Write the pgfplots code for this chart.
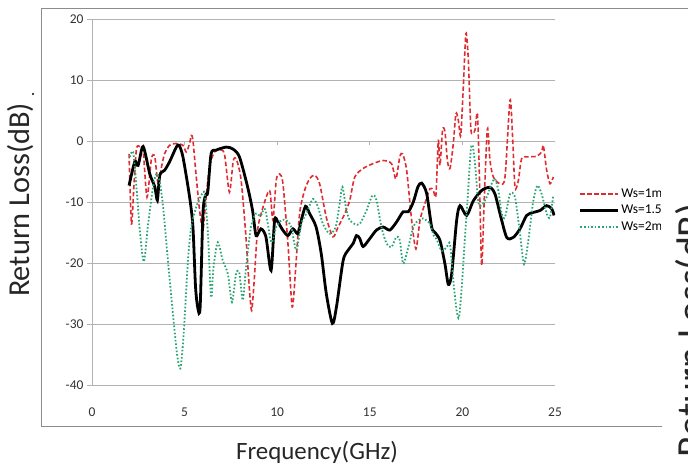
\documentclass[border=0pt]{standalone}
\usepackage{pgfplots}
\pgfplotsset{compat=1.18}
\usepackage{fontspec}
\setmainfont{Carlito}
\definecolor{gridgray}{RGB}{178,178,178}
\definecolor{framegray}{RGB}{140,140,140}
\definecolor{rlred}{RGB}{222,45,50}
\definecolor{rlgreen}{RGB}{40,165,115}
\begin{document}
\begin{tikzpicture}
\draw[framegray, line width=1bp] (662bp,44bp) -- (41bp,44bp) -- (41bp,462bp) -- (688bp,462bp);
\begin{axis}[
  at={(92bp,86bp)}, anchor=south west,
  scale only axis, width=463bp, height=366bp,
  xmin=0, xmax=25, ymin=-40, ymax=20,
  xtick={0,5,...,25}, ytick={-40,-30,...,20},
  axis lines=left,
  axis line style={-, gridgray, line width=1bp},
  ymajorgrids, grid style={gridgray, line width=1bp},
  xtick style={draw=none},
  ytick style={gridgray, line width=1bp},
  tick align=outside, major tick length=5bp,
  ticklabel style={font=\fontsize{13.5}{16}\selectfont, text=black!80},
  /pgf/number format/assume math mode=true,
  xticklabel style={yshift=-14bp},
  legend style={at={(axis description cs:1.045,0.55)}, anchor=north west,
    draw=none, fill=none, font=\fontsize{13.5}{16}\selectfont, row sep=0bp,
    nodes={inner sep=1.5bp, text height=10bp, text depth=3.5bp}},
  legend cell align=left,
  legend image code/.code={\draw[#1] (0bp,0bp) -- (38bp,0bp);},
]
\addplot[rlred, line width=1.6bp, dash pattern=on 4.5bp off 2.5bp, smooth, tension=0.45] coordinates {
(2.0,-2.1)(2.13,-13.6)(2.26,-7.5)(2.4,-1.3)(2.58,-0.9)(2.76,-1.5)(2.97,-9.2)(3.21,-2.9)(3.39,-2.6)(3.57,-7.0)(3.75,-4.3)(3.92,-2.1)(4.19,-0.7)(4.55,-0.4)(4.91,-0.7)(5.09,-1.8)(5.27,-0.4)(5.36,0.9)(5.45,0.1)(5.63,-5.9)(5.81,-11.4)(5.99,-14.6)(6.13,-10.3)(6.34,-4.3)(6.61,-1.8)(6.88,-1.5)(7.15,-2.1)(7.42,-8.4)(7.63,-3.2)(7.81,-3.1)(8.05,-6.4)(8.3,-15.2)(8.49,-23.9)(8.62,-27.8)(8.76,-22.8)(8.94,-14.6)(9.21,-11.1)(9.48,-8.6)(9.62,-8.4)(9.77,-13.0)(9.95,-6.4)(10.13,-5.4)(10.31,-7.0)(10.58,-16.8)(10.81,-27.2)(10.99,-21.2)(11.21,-11.9)(11.48,-8.1)(11.75,-6.2)(12.02,-5.6)(12.29,-7.0)(12.65,-12.5)(13.01,-15.7)(13.29,-14.1)(13.65,-11.9)(13.92,-9.7)(14.19,-5.9)(14.64,-4.5)(15.18,-3.7)(15.72,-3.2)(16.17,-3.7)(16.41,-6.2)(16.62,-2.6)(16.77,-2.1)(16.99,-4.8)(17.26,-13.0)(17.49,-17.7)(17.71,-13.0)(17.95,-10.5)(18.25,-7.8)(18.43,-8.1)(18.57,-8.9)(18.7,0.1)(18.79,-4.0)(18.93,1.8)(19.06,1.5)(19.19,-3.2)(19.33,-4.5)(19.51,-0.4)(19.65,4.5)(19.78,3.4)(19.91,0.9)(20.05,8.9)(20.19,17.6)(20.32,13.3)(20.45,2.3)(20.55,1.2)(20.68,1.8)(20.81,4.5)(20.91,-4.8)(21.04,-20.4)(21.17,-10.3)(21.35,2.0)(21.49,-3.2)(21.67,-5.9)(22.03,-7.0)(22.3,-5.9)(22.57,6.7)(22.71,0.7)(22.84,-7.6)(23.02,-6.5)(23.2,-2.9)(23.56,-2.6)(24.01,-2.5)(24.28,-1.8)(24.37,-0.7)(24.55,-4.8)(24.73,-7.0)(24.91,-5.9)
};
\addlegendentry{Ws=1mm}
\addplot[black, line width=2.8bp, smooth, tension=0.45] coordinates {
(2.0,-7.3)(2.31,-3.4)(2.49,-4.0)(2.76,-0.9)(3.12,-5.4)(3.39,-7.5)(3.53,-9.7)(3.66,-5.6)(3.92,-4.8)(4.19,-3.4)(4.55,-1.0)(4.70,-0.7)(4.91,-2.6)(5.27,-9.2)(5.45,-14.1)(5.59,-23.9)(5.72,-27.5)(5.84,-27.2)(5.99,-11.9)(6.13,-8.9)(6.25,-8.4)(6.43,-2.1)(6.70,-1.5)(7.24,-1.0)(7.6,-1.3)(7.96,-2.6)(8.4,-7.5)(8.67,-11.4)(8.86,-15.5)(9.12,-14.4)(9.39,-15.7)(9.67,-21.2)(9.86,-13)(10.04,-13.3)(10.3,-14.6)(10.58,-15.5)(10.85,-14.4)(11.12,-15.2)(11.3,-13.0)(11.53,-10.7)(11.75,-11.9)(12.1,-14.1)(12.38,-18.5)(12.65,-25.0)(12.98,-29.9)(13.2,-27.2)(13.56,-19.6)(13.83,-17.9)(14.1,-16.8)(14.28,-15.5)(14.46,-16.0)(14.64,-17.3)(15.0,-16.0)(15.36,-14.6)(15.72,-14.1)(16.08,-14.6)(16.44,-13.3)(16.8,-11.6)(17.08,-11.6)(17.35,-10.0)(17.6,-7.5)(17.8,-6.9)(18.07,-8.6)(18.34,-14.1)(18.52,-15.0)(18.79,-16.3)(19.06,-20.2)(19.24,-23.5)(19.42,-21.8)(19.69,-13.0)(19.87,-10.6)(20.23,-12.2)(20.59,-9.8)(21.04,-8.1)(21.49,-7.6)(21.76,-8.7)(22.03,-11.9)(22.39,-15.8)(22.75,-15.8)(23.11,-14.4)(23.47,-12.2)(23.83,-11.7)(24.19,-11.4)(24.55,-10.6)(24.82,-11.1)(24.95,-12.2)
};
\addlegendentry{Ws=1.5mm}
\addplot[rlgreen, line width=1.8bp, dash pattern=on 1.6bp off 2bp, smooth, tension=0.45] coordinates {
(2.04,-2.6)(2.22,-1.8)(2.4,-7.5)(2.58,-14.6)(2.8,-19.8)(3.03,-13.6)(3.3,-7.5)(3.48,-5.4)(3.66,-6.7)(3.84,-10.8)(4.1,-19.6)(4.37,-28.3)(4.59,-34.9)(4.77,-37.3)(4.95,-31.6)(5.18,-19.6)(5.36,-14.1)(5.63,-10.8)(5.9,-8.9)(6.08,-8.6)(6.25,-14.6)(6.43,-25.6)(6.56,-20.7)(6.79,-16.6)(7.06,-19.6)(7.33,-21.7)(7.56,-26.4)(7.78,-21.7)(7.96,-21.7)(8.14,-26.1)(8.32,-20.7)(8.58,-14.1)(8.85,-11.9)(9.1,-12.3)(9.35,-11.2)(9.68,-16.6)(9.95,-14.1)(10.22,-13.0)(10.49,-13.0)(10.76,-14.1)(11.03,-17.9)(11.3,-13.6)(11.57,-11.9)(11.93,-9.5)(12.2,-10.8)(12.47,-13.6)(12.83,-15.2)(13.16,-14.1)(13.37,-10.3)(13.52,-7.5)(13.74,-11.4)(13.92,-13.0)(14.19,-13.6)(14.46,-13.6)(14.82,-11.4)(15.14,-8.9)(15.36,-9.7)(15.63,-14.1)(15.9,-16.8)(16.17,-17.4)(16.44,-15.7)(16.62,-16.3)(16.8,-20.1)(17.08,-17.4)(17.35,-14.1)(17.62,-13.0)(17.89,-12.7)(18.25,-13.6)(18.45,-15.5)(18.61,-16.1)(18.88,-18.0)(19.15,-17.4)(19.33,-16.9)(19.51,-22.9)(19.69,-27.8)(19.82,-28.9)(19.96,-24.0)(20.14,-15.8)(20.32,-7.6)(20.45,-1.5)(20.55,-0.7)(20.68,-3.7)(20.86,-10.0)(21.04,-10.6)(21.31,-9.2)(21.58,-7.0)(21.76,-6.2)(21.94,-8.1)(22.12,-11.9)(22.3,-12.5)(22.57,-8.7)(22.84,-9.2)(23.11,-15.2)(23.33,-20.2)(23.56,-16.3)(23.83,-9.8)(24.05,-7.3)(24.28,-8.7)(24.55,-11.9)(24.73,-12.5)(24.91,-8.9)
};
\addlegendentry{Ws=2mm}
\pgfplotsinvokeforeach{5,10,15,20,25}{\draw[gridgray, line width=1bp] (axis cs:#1,0) -- ([yshift=-4bp]axis cs:#1,0);}
\end{axis}
\fill[white] (660.5bp,236bp) rectangle (688bp,291bp);
\node[rotate=90, inner sep=0pt, font=\fontsize{30.5}{36}\selectfont, text=black!85] at (20bp,271bp) {Return Loss(dB)};
\node[inner sep=0pt, font=\fontsize{25}{30}\selectfont, text=black!85] at (317bp,19bp) {Frequency(GHz)};
\node[rotate=90, anchor=north east, inner sep=0pt, font=\fontsize{40}{48}\selectfont, text=black!85] at (675bp,268bp) {Return Loss(dB)};
\fill[black] (33bp,377bp) circle (1.2bp);
\pgfresetboundingbox
\path (0bp,0bp) rectangle (688bp,471bp);
\end{tikzpicture}
\end{document}
